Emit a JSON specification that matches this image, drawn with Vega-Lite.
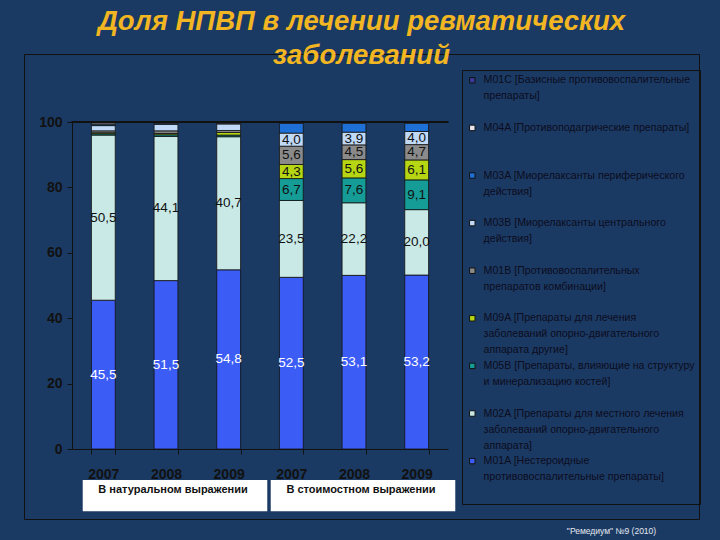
{
  "$schema": "https://vega.github.io/schema/vega-lite/v6.json",
  "autosize": {"type": "none"},
  "width": 675,
  "height": 465,
  "padding": {"left": 24, "top": 54, "right": 21, "bottom": 21},
  "background": "#1b3a63",
  "config": {"view": {"stroke": "#111111", "strokeWidth": 1}, "font": "Liberation Sans"},
  "title": {
    "text": ["Доля НПВП в лечении ревматических", "заболеваний"],
    "font": "Liberation Sans", "fontSize": 27.5, "fontStyle": "italic", "fontWeight": "bold",
    "color": "#f2b622", "anchor": "middle", "frame": "group", "lineHeight": 34,
    "baseline": "alphabetic", "offset": -37
  },
  "datasets": {
    "cats": [
      {"code": "M01C", "name": "M01C [Базисные противовоспалительные|препараты]"},
      {"code": "M04A", "name": "M04A [Противоподагрические препараты]"},
      {"code": "M03A", "name": "M03A [Миорелаксанты периферического|действия]"},
      {"code": "M03B", "name": "M03B [Миорелаксанты центрального|действия]"},
      {"code": "M01B", "name": "M01B [Противовоспалительных|препаратов комбинации]"},
      {"code": "M09A", "name": "M09A [Препараты для лечения|заболеваний опорно-двигательного|аппарата другие]"},
      {"code": "M05B", "name": "M05B [Препараты, влияющие на структуру|и минерализацию костей]"},
      {"code": "M02A", "name": "M02A [Препараты для местного лечения|заболеваний опорно-двигательного|аппарата]"},
      {"code": "M01A", "name": "M01A [Нестероидные|противовоспалительные препараты]"}
    ],
    "captions": [
      {"bar": "2008 нат", "txt": "В натуральном выражении"},
      {"bar": "2008 ст", "txt": "В стоимостном выражении"}
    ],
    "shares": [
      {"bar": "2007 нат", "code": "M01A", "value": 45.5, "lbl": "45,5"},
      {"bar": "2007 нат", "code": "M02A", "value": 50.5, "lbl": "50,5"},
      {"bar": "2007 нат", "code": "M05B", "value": 0.4},
      {"bar": "2007 нат", "code": "M09A", "value": 0.3},
      {"bar": "2007 нат", "code": "M01B", "value": 0.6},
      {"bar": "2007 нат", "code": "M03B", "value": 1.6},
      {"bar": "2007 нат", "code": "M03A", "value": 0.4},
      {"bar": "2007 нат", "code": "M04A", "value": 0.4},
      {"bar": "2007 нат", "code": "M01C", "value": 0.3},
      {"bar": "2008 нат", "code": "M01A", "value": 51.5, "lbl": "51,5"},
      {"bar": "2008 нат", "code": "M02A", "value": 44.1, "lbl": "44,1"},
      {"bar": "2008 нат", "code": "M05B", "value": 0.5},
      {"bar": "2008 нат", "code": "M09A", "value": 0.4},
      {"bar": "2008 нат", "code": "M01B", "value": 0.8},
      {"bar": "2008 нат", "code": "M03B", "value": 2.0},
      {"bar": "2008 нат", "code": "M03A", "value": 0.3},
      {"bar": "2008 нат", "code": "M04A", "value": 0.2},
      {"bar": "2008 нат", "code": "M01C", "value": 0.2},
      {"bar": "2009 нат", "code": "M01A", "value": 54.8, "lbl": "54,8"},
      {"bar": "2009 нат", "code": "M02A", "value": 40.7, "lbl": "40,7"},
      {"bar": "2009 нат", "code": "M05B", "value": 0.5},
      {"bar": "2009 нат", "code": "M09A", "value": 0.8},
      {"bar": "2009 нат", "code": "M01B", "value": 0.6},
      {"bar": "2009 нат", "code": "M03B", "value": 2.0},
      {"bar": "2009 нат", "code": "M03A", "value": 0.2},
      {"bar": "2009 нат", "code": "M04A", "value": 0.2},
      {"bar": "2009 нат", "code": "M01C", "value": 0.2},
      {"bar": "2007 ст", "code": "M01A", "value": 52.5, "lbl": "52,5"},
      {"bar": "2007 ст", "code": "M02A", "value": 23.5, "lbl": "23,5"},
      {"bar": "2007 ст", "code": "M05B", "value": 6.7, "lbl": "6,7"},
      {"bar": "2007 ст", "code": "M09A", "value": 4.3, "lbl": "4,3"},
      {"bar": "2007 ст", "code": "M01B", "value": 5.6, "lbl": "5,6"},
      {"bar": "2007 ст", "code": "M03B", "value": 4.0, "lbl": "4,0"},
      {"bar": "2007 ст", "code": "M03A", "value": 3.0},
      {"bar": "2007 ст", "code": "M04A", "value": 0.2},
      {"bar": "2007 ст", "code": "M01C", "value": 0.2},
      {"bar": "2008 ст", "code": "M01A", "value": 53.1, "lbl": "53,1"},
      {"bar": "2008 ст", "code": "M02A", "value": 22.2, "lbl": "22,2"},
      {"bar": "2008 ст", "code": "M05B", "value": 7.6, "lbl": "7,6"},
      {"bar": "2008 ст", "code": "M09A", "value": 5.6, "lbl": "5,6"},
      {"bar": "2008 ст", "code": "M01B", "value": 4.5, "lbl": "4,5"},
      {"bar": "2008 ст", "code": "M03B", "value": 3.9, "lbl": "3,9"},
      {"bar": "2008 ст", "code": "M03A", "value": 2.7},
      {"bar": "2008 ст", "code": "M04A", "value": 0.2},
      {"bar": "2008 ст", "code": "M01C", "value": 0.2},
      {"bar": "2009 ст", "code": "M01A", "value": 53.2, "lbl": "53,2"},
      {"bar": "2009 ст", "code": "M02A", "value": 20.0, "lbl": "20,0"},
      {"bar": "2009 ст", "code": "M05B", "value": 9.1, "lbl": "9,1"},
      {"bar": "2009 ст", "code": "M09A", "value": 6.1, "lbl": "6,1"},
      {"bar": "2009 ст", "code": "M01B", "value": 4.7, "lbl": "4,7"},
      {"bar": "2009 ст", "code": "M03B", "value": 4.0, "lbl": "4,0"},
      {"bar": "2009 ст", "code": "M03A", "value": 2.5},
      {"bar": "2009 ст", "code": "M04A", "value": 0.2},
      {"bar": "2009 ст", "code": "M01C", "value": 0.2}
    ]
  },
  "layer": [
    {
      "data": {"name": "shares"},
      "transform": [
        {"lookup": "code", "from": {"data": {"name": "cats"}, "key": "code", "fields": ["name"]}},
        {"stack": "value", "groupby": ["bar"], "as": ["v0", "v1"]},
        {"calculate": "(datum.v0 + datum.v1) / 2", "as": "mid"}
      ],
      "layer": [
        {
          "mark": {"type": "bar", "stroke": "#111111", "strokeWidth": 0.8},
          "encoding": {
            "x": {
              "field": "bar", "type": "nominal",
              "scale": {
                "domain": ["2007 нат", "2008 нат", "2009 нат", "2007 ст", "2008 ст", "2009 ст"],
                "range": [48, 424], "paddingInner": 0.62, "paddingOuter": 0.31
              },
              "axis": {
                "orient": "bottom", "offset": -70, "labelExpr": "slice(datum.label, 0, 4)", "labelAngle": 0,
                "labelFont": "Liberation Sans", "labelFontSize": 14, "labelFontWeight": "bold", "labelColor": "#111111",
                "labelPadding": 13, "tickBand": "extent", "tickSize": 5, "tickColor": "#111111", "domainColor": "#111111",
                "title": "\"Ремедиум\" №9 (2010)", "titleFont": "Liberation Sans", "titleFontSize": 8.5,
                "titleFontWeight": "normal", "titleColor": "#e4e8f0", "titleX": 587, "titleY": 81,
                "titleBaseline": "middle", "titleAlign": "center"
              }
            },
            "y": {
              "field": "v0", "type": "quantitative",
              "scale": {"domain": [0, 100], "nice": false, "zero": false, "range": [395, 68]},
              "axis": {
                "title": null, "values": [0, 20, 40, 60, 80, 100], "offset": -48, "grid": false,
                "labelFont": "Liberation Sans", "labelFontSize": 14, "labelFontWeight": "bold", "labelColor": "#111111",
                "labelPadding": 5, "tickSize": 5, "tickColor": "#111111", "domainColor": "#111111"
              }
            },
            "y2": {"field": "v1"},
            "color": {
              "field": "name", "type": "nominal",
              "scale": {
                "domain": [
                  "M01C [Базисные противовоспалительные|препараты]",
                  "M04A [Противоподагрические препараты]",
                  "M03A [Миорелаксанты периферического|действия]",
                  "M03B [Миорелаксанты центрального|действия]",
                  "M01B [Противовоспалительных|препаратов комбинации]",
                  "M09A [Препараты для лечения|заболеваний опорно-двигательного|аппарата другие]",
                  "M05B [Препараты, влияющие на структуру|и минерализацию костей]",
                  "M02A [Препараты для местного лечения|заболеваний опорно-двигательного|аппарата]",
                  "M01A [Нестероидные|противовоспалительные препараты]"
                ],
                "range": ["#363c96", "#e6e6f2", "#1f70d6", "#bfd9f6", "#8a8a8a", "#b6d614", "#169c97", "#c8e9e6", "#3c5df5"]
              },
              "legend": {
                "orient": "none", "legendX": 438, "legendY": 16, "title": null,
                "symbolType": "square", "symbolSize": 30, "symbolStrokeColor": "#111111", "symbolStrokeWidth": 1,
                "labelFont": "Liberation Sans", "labelFontSize": 10.6, "labelColor": "#0c0c1e", "labelLimit": 0,
                "labelExpr": "slice(split(datum.label + '||', '|'), 0, 3)", "labelBaseline": "top",
                "labelOffset": 6, "rowPadding": 4.6, "padding": 5, "strokeColor": "#111111",
                "encode": {"labels": {"update": {"dy": {"value": -5}, "lineHeight": {"value": 16}}}}
              }
            }
          }
        },
        {
          "transform": [{"filter": "isValid(datum.lbl)"}],
          "mark": {"type": "text", "font": "Liberation Sans", "fontSize": 13.5, "baseline": "middle"},
          "encoding": {
            "x": {"field": "bar", "type": "nominal"},
            "y": {"field": "mid", "type": "quantitative"},
            "text": {"field": "lbl"},
            "color": {"condition": {"test": "datum.code === 'M01A'", "value": "#ffffff"}, "value": "#111111"}
          }
        },
        {
          "mark": {"type": "tick", "size": 63, "thickness": 1.2, "color": "#111111"},
          "encoding": {
            "x": {"field": "bar", "type": "nominal"},
            "y": {"datum": 100}
          }
        }
      ]
    },
    {
      "data": {"name": "captions"},
      "layer": [
        {
          "mark": {"type": "bar", "color": "#ffffff", "width": {"band": 7.75}, "xOffset": 9},
          "encoding": {
            "x": {"field": "bar", "type": "nominal"},
            "y": {"datum": -9.5},
            "y2": {"datum": -19}
          }
        },
        {
          "mark": {"type": "text", "font": "Liberation Sans", "fontWeight": "bold", "fontSize": 11, "color": "#111111", "xOffset": 7, "baseline": "middle"},
          "encoding": {
            "x": {"field": "bar", "type": "nominal"},
            "y": {"datum": -12.4},
            "text": {"field": "txt"}
          }
        }
      ]
    }
  ]
}
